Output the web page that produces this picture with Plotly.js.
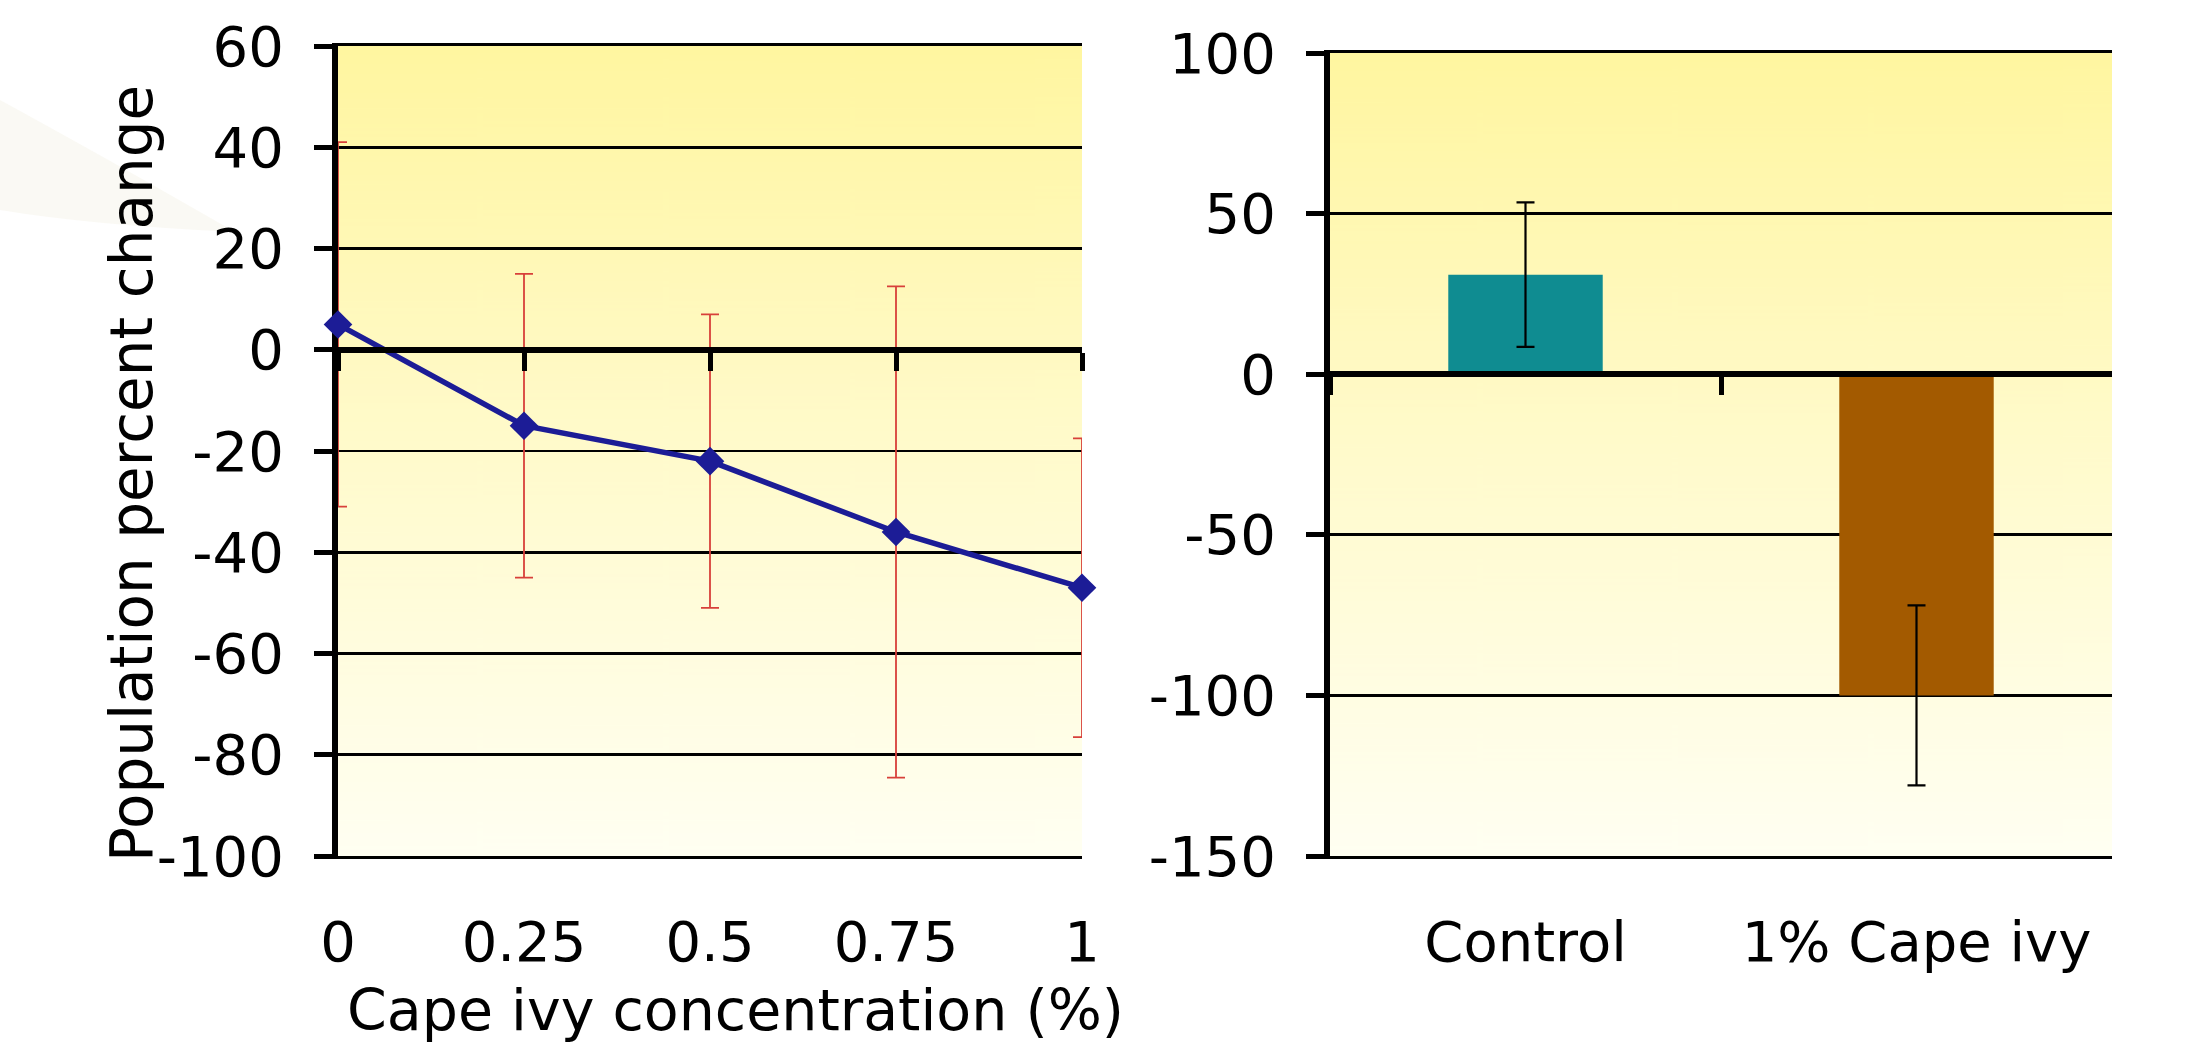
<!DOCTYPE html>
<html>
<head>
<meta charset="utf-8">
<script src="https://cdn.plot.ly/plotly-3.0.1.min.js"></script>
<style>html,body{margin:0;padding:0;background:#fff;}#chart{width:2189px;height:1049px;}</style>
</head>
<body>
<div id="chart"></div>
<script>
// ---- data ----
const concentrations = [0, 0.25, 0.5, 0.75, 1];
const concentrationLabels = ['0', '0.25', '0.5', '0.75', '1'];
const popChange = [5, -15, -22, -36, -47];
const popChangeError = [36, 30, 29, 48.5, 29.5];
const leftYTicks = [-100, -80, -60, -40, -20, 0, 20, 40, 60];
const leftYLabels = ['-100', '-80', '-60', '-40', '-20', '0', '20', '40', '60'];

const barCategories = ['Control', '1% Cape ivy'];
const barValues = [31, -100];
const barErrors = [22.5, 28];
const rightYTicks = [-150, -100, -50, 0, 50, 100];
const rightYLabels = ['-150', '-100', '-50', '0', '50', '100'];

// ---- layout helpers ----
const W = 2189, H = 1049;
const px = v => v / W, py = v => 1 - v / H;
const leftX = [px(338), px(1082)], leftY = [py(856), py(46)];
const rightX = [px(1330), px(2112)], rightY = [py(856), py(53)];
const leftRange = [-100, 60], rightRange = [-150, 100];
const zeroPos = (dom, r) => dom[0] + (0 - r[0]) / (r[1] - r[0]) * (dom[1] - dom[0]);

function gradient() {
  const c = document.createElement('canvas');
  c.width = 8; c.height = 512;
  const g = c.getContext('2d');
  const lg = g.createLinearGradient(0, 0, 0, 512);
  lg.addColorStop(0, 'rgb(255,246,160)');
  lg.addColorStop(0.45, 'rgb(255,250,200)');
  lg.addColorStop(1, 'rgb(255,255,242)');
  g.fillStyle = lg; g.fillRect(0, 0, 8, 512);
  return c.toDataURL();
}
const bg = gradient();

const FONT = 'DejaVu Sans, Verdana, sans-serif';
const FS = 56;

const traces = [
  {
    type: 'scatter', mode: 'lines+markers', xaxis: 'x', yaxis: 'y',
    x: concentrations, y: popChange, cliponaxis: false, hoverinfo: 'x+y',
    line: {color: '#1C1C96', width: 5.5},
    marker: {symbol: 'diamond', size: 22, color: '#1C1C96'},
    error_y: {type: 'data', array: popChangeError, visible: true, color: '#D8403A', thickness: 1.8, width: 9}
  },
  {
    type: 'scatter', mode: 'markers', xaxis: 'x2', yaxis: 'y',
    x: concentrations, y: popChange, marker: {opacity: 0}, hoverinfo: 'skip', cliponaxis: false
  },
  {
    type: 'bar', xaxis: 'x3', yaxis: 'y2',
    x: barCategories, y: barValues,
    marker: {color: ['#0F8C91', '#A35A00'], line: {width: 0}},
    error_y: {type: 'data', array: barErrors, visible: true, color: '#000', thickness: 2.2, width: 9}
  },
  {
    type: 'scatter', mode: 'markers', xaxis: 'x4', yaxis: 'y2',
    x: barCategories, y: barValues, marker: {opacity: 0}, hoverinfo: 'skip'
  }
];

const yCommon = {
  ticks: 'outside', ticklen: 18, tickwidth: 5, tickcolor: '#000',
  showline: true, linewidth: 6, linecolor: '#000',
  showgrid: true, gridcolor: '#000', gridwidth: 2.8,
  zeroline: false, layer: 'below traces', ticklabelstandoff: 19,
  tickfont: {size: FS, color: '#000', family: FONT}
};
const xBottomCommon = {
  ticks: '', showline: true, mirror: true, linewidth: 2.8, linecolor: '#000',
  showgrid: false, zeroline: false, layer: 'below traces',
  ticklabelstandoff: 35, tickfont: {size: FS, color: '#000', family: FONT}
};
const xZeroCommon = {
  anchor: 'free', showticklabels: false,
  ticks: 'outside', ticklen: 18, tickwidth: 5, tickcolor: '#000',
  showline: true, linewidth: 6, linecolor: '#000', showgrid: false, zeroline: false, layer: 'above traces'
};

const layout = {
  width: W, height: H,
  margin: {l: 0, r: 0, t: 0, b: 0},
  paper_bgcolor: '#fff', plot_bgcolor: 'rgba(0,0,0,0)',
  showlegend: false, bargap: 0.605,
  font: {family: FONT, size: FS, color: '#000'},
  xaxis: Object.assign({domain: leftX, anchor: 'y', range: [0, 1],
    tickvals: concentrations, ticktext: concentrationLabels}, xBottomCommon),
  xaxis2: Object.assign({overlaying: 'x', position: zeroPos(leftY, leftRange), range: [0, 1],
    tickvals: concentrations}, xZeroCommon),
  yaxis: Object.assign({domain: leftY, anchor: 'x', range: leftRange, tickvals: leftYTicks, ticktext: leftYLabels}, yCommon),
  xaxis3: Object.assign({domain: rightX, anchor: 'y2', type: 'category', categoryarray: barCategories,
    range: [-0.5, 1.5]}, xBottomCommon),
  xaxis4: Object.assign({overlaying: 'x3', position: zeroPos(rightY, rightRange),
    type: 'category', categoryarray: barCategories, range: [-0.5, 1.5], tickson: 'boundaries'}, xZeroCommon),
  yaxis2: Object.assign({domain: rightY, anchor: 'x3', range: rightRange, tickvals: rightYTicks, ticktext: rightYLabels}, yCommon),
  images: [
    {source: bg, xref: 'paper', yref: 'paper', x: leftX[0], y: leftY[1], sizex: leftX[1] - leftX[0], sizey: leftY[1] - leftY[0],
     xanchor: 'left', yanchor: 'top', sizing: 'stretch', layer: 'below'},
    {source: bg, xref: 'paper', yref: 'paper', x: rightX[0], y: rightY[1], sizex: rightX[1] - rightX[0], sizey: rightY[1] - rightY[0],
     xanchor: 'left', yanchor: 'top', sizing: 'stretch', layer: 'below'}
  ],
  shapes: [
    {type: 'path', xref: 'paper', yref: 'paper', layer: 'below', line: {width: 0}, fillcolor: 'rgba(240,236,220,0.3)',
     path: `M 0 ${py(100)} L 0 ${py(210)} Q ${px(90)} ${py(225)} ${px(235)} ${py(232)} Q ${px(110)} ${py(160)} 0 ${py(100)} Z`}
  ],
  annotations: [
    {text: 'Population percent change', xref: 'paper', yref: 'paper', x: px(132), y: py(474), textangle: -90,
     xanchor: 'center', yanchor: 'middle', showarrow: false, font: {size: 58, color: '#000', family: FONT}},
    {text: 'Cape ivy concentration (%)', xref: 'paper', yref: 'paper', x: px(735), y: py(1010),
     xanchor: 'center', yanchor: 'middle', showarrow: false, font: {size: 57, color: '#000', family: FONT}}
  ]
};

Plotly.newPlot('chart', traces, layout, {displayModeBar: false, staticPlot: true});
</script>
</body>
</html>
